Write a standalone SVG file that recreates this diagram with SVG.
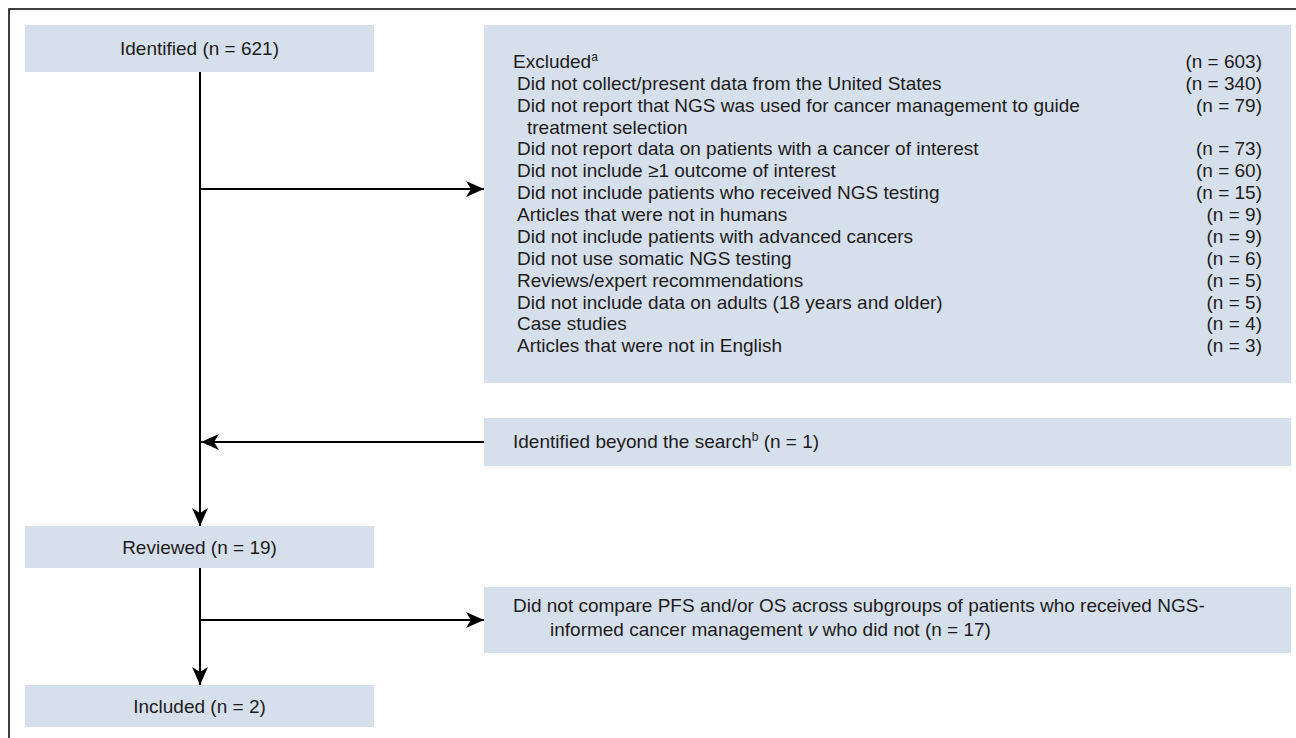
<svg xmlns="http://www.w3.org/2000/svg" width="1296" height="738" viewBox="0 0 1296 738">
<defs>
<style>
.box{fill:#d6e0ec;}
.t{font-family:"Liberation Sans",Arial,sans-serif;font-size:19px;fill:#1e1b1c;}
.c{text-anchor:middle;}
.r{text-anchor:end;}
.sup{font-size:12px;}
.ln{stroke:#000;stroke-width:2;fill:none;}
.frame{stroke:#000;stroke-width:1.5;fill:none;}
</style>
<marker id="ah" viewBox="0 0 18 16" refX="18" refY="8" markerWidth="18" markerHeight="16" orient="auto" markerUnits="userSpaceOnUse">
<path d="M0,0 L18,8 L0,16 L5,8 Z" fill="#000"/>
</marker>
</defs>
<rect width="1296" height="738" fill="#fff"/>
<path class="frame" d="M9,738 V9 H1296"/>

<g id="identified">
<rect class="box" x="25" y="25" width="349" height="47"/>
<text class="t c" x="199.5" y="55">Identified (n = 621)</text>
</g>

<g id="excluded">
<rect class="box" x="484" y="25" width="807" height="358"/>
<text class="t" x="513" y="68">Excluded<tspan class="sup" dy="-7">a</tspan></text>
<text class="t r" x="1262" y="68">(n = 603)</text>
<text class="t" x="517" y="89.9">Did not collect/present data from the United States</text>
<text class="t r" x="1262" y="89.9">(n = 340)</text>
<text class="t" x="517" y="111.7">Did not report that NGS was used for cancer management to guide</text>
<text class="t r" x="1262" y="111.7">(n = 79)</text>
<text class="t" x="527" y="133.6">treatment selection</text>
<text class="t" x="517" y="155.4">Did not report data on patients with a cancer of interest</text>
<text class="t r" x="1262" y="155.4">(n = 73)</text>
<text class="t" x="517" y="177.3">Did not include ≥1 outcome of interest</text>
<text class="t r" x="1262" y="177.3">(n = 60)</text>
<text class="t" x="517" y="199.2">Did not include patients who received NGS testing</text>
<text class="t r" x="1262" y="199.2">(n = 15)</text>
<text class="t" x="517" y="221">Articles that were not in humans</text>
<text class="t r" x="1262" y="221">(n = 9)</text>
<text class="t" x="517" y="242.9">Did not include patients with advanced cancers</text>
<text class="t r" x="1262" y="242.9">(n = 9)</text>
<text class="t" x="517" y="264.7">Did not use somatic NGS testing</text>
<text class="t r" x="1262" y="264.7">(n = 6)</text>
<text class="t" x="517" y="286.6">Reviews/expert recommendations</text>
<text class="t r" x="1262" y="286.6">(n = 5)</text>
<text class="t" x="517" y="308.5">Did not include data on adults (18 years and older)</text>
<text class="t r" x="1262" y="308.5">(n = 5)</text>
<text class="t" x="517" y="330.3">Case studies</text>
<text class="t r" x="1262" y="330.3">(n = 4)</text>
<text class="t" x="517" y="352.2">Articles that were not in English</text>
<text class="t r" x="1262" y="352.2">(n = 3)</text>
</g>

<g id="beyond">
<rect class="box" x="484" y="418" width="807" height="48"/>
<text class="t" x="513" y="448">Identified beyond the search<tspan class="sup" dy="-7">b</tspan><tspan dy="7"> (n = 1)</tspan></text>
</g>

<g id="reviewed">
<rect class="box" x="25" y="526" width="349" height="42"/>
<text class="t c" x="199.5" y="554">Reviewed (n = 19)</text>
</g>

<g id="notcompare">
<rect class="box" x="484" y="587" width="807" height="66"/>
<text class="t" x="513" y="612">Did not compare PFS and/or OS across subgroups of patients who received NGS-</text>
<text class="t" x="550" y="636">informed cancer management <tspan font-style="italic">v</tspan> who did not (n = 17)</text>
</g>

<g id="included">
<rect class="box" x="25" y="685" width="349" height="42"/>
<text class="t c" x="199.5" y="713">Included (n = 2)</text>
</g>

<g id="connectors">
<path class="ln" d="M200,72 V526" marker-end="url(#ah)"/>
<path class="ln" d="M200,189 H484" marker-end="url(#ah)"/>
<path class="ln" d="M484,442 H201" marker-end="url(#ah)"/>
<path class="ln" d="M200,568 V685" marker-end="url(#ah)"/>
<path class="ln" d="M200,620 H484" marker-end="url(#ah)"/>
</g>
</svg>
